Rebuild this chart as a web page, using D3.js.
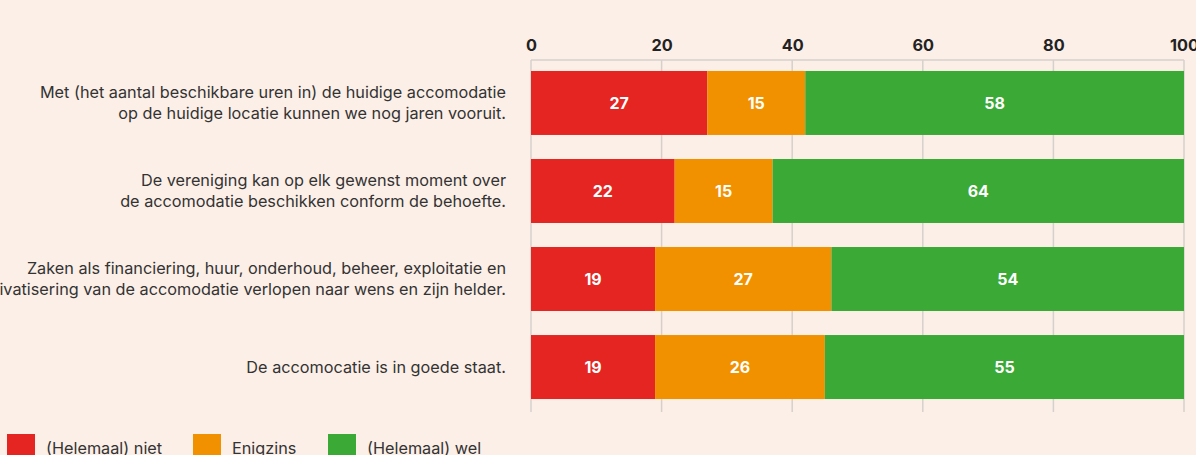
<!DOCTYPE html>
<html><head><meta charset="utf-8">
<script src="https://cdn.jsdelivr.net/npm/d3@7"></script>
<style>
html,body{margin:0;padding:0;background:#fcefe7;}
svg{display:block;font-family:Inter,"Noto Sans",sans-serif;}
</style></head>
<body>
<svg id="c" width="1196" height="455"></svg>
<script>
const categories = [
  ["Met (het aantal beschikbare uren in) de huidige accomodatie","op de huidige locatie kunnen we nog jaren vooruit."],
  ["De vereniging kan op elk gewenst moment over","de accomodatie beschikken conform de behoefte."],
  ["Zaken als financiering, huur, onderhoud, beheer, exploitatie en","privatisering van de accomodatie verlopen naar wens en zijn helder."],
  ["De accomocatie is in goede staat."]
];
const seriesNames = ["(Helemaal) niet","Enigzins","(Helemaal) wel"];
const niet = [27,22,19,19];
const enigzins = [15,15,27,26];
const wel = [58,64,54,55];
const ticks = [0,20,40,60,80,100];
const colors = ["#e52521","#f29100","#3aa935"];

const svg = d3.select("#c");
const x = d3.scaleLinear().domain([0,100]).range([531,1184]);
const y = d3.scaleBand().domain(d3.range(categories.length)).range([59,411]).paddingInner(0.273).paddingOuter(0.136);

// grid
const g = svg.append("g");
g.selectAll("line.grid").data(ticks).join("line")
  .attr("x1",d=>x(d)).attr("x2",d=>x(d)).attr("y1",60).attr("y2",412)
  .attr("stroke","#d6d0cc").attr("stroke-width",1.5);
g.append("line").attr("x1",x(0)).attr("x2",x(100)).attr("y1",60).attr("y2",60)
  .attr("stroke","#d6d0cc").attr("stroke-width",1.5);

// axis labels
svg.append("g").attr("transform","translate(0,51)")
  .call(d3.axisTop(x).tickValues(ticks).tickSize(0).tickPadding(0))
  .call(a=>a.select(".domain").remove())
  .selectAll("text").attr("font-size",16.3).attr("font-weight",700).attr("fill","#222")
  .attr("font-family","Inter,'Noto Sans',sans-serif");

// stacked data
const rows = categories.map((c,i)=>({i, vals:[niet[i],enigzins[i],wel[i]]}));
svg.append("clipPath").attr("id","clip").append("rect")
  .attr("x",x(0)).attr("y",0).attr("width",x(100)-x(0)).attr("height",455);
const bars = svg.append("g").attr("clip-path","url(#clip)");
rows.forEach(r=>{
  let acc=0;
  r.vals.forEach((v,k)=>{
    const x0=acc, x1=acc+v; acc=x1;
    bars.append("rect").attr("x",x(x0)).attr("width",x(Math.min(x1,100))-x(x0))
      .attr("y",y(r.i)).attr("height",y.bandwidth()).attr("fill",colors[k]);
    svg.append("text").attr("x",(x(x0)+x(Math.min(x1,100)))/2).attr("y",y(r.i)+y.bandwidth()/2)
      .attr("dy","0.36em").attr("text-anchor","middle").attr("fill","#fff")
      .attr("font-size",16).attr("font-weight",700).text(v);
  });
});

// category labels
categories.forEach((lines,i)=>{
  const cy = y(i)+y.bandwidth()/2;
  const lh = 21;
  const t = svg.append("text").attr("text-anchor","end").attr("font-size",16.25).attr("fill","#333");
  lines.forEach((ln,j)=>{
    t.append("tspan").attr("x",506).attr("y",cy+(j-(lines.length-1)/2)*lh).attr("dy","0.36em").text(ln);
  });
});

// legend
const lx=[7,193,328];
seriesNames.forEach((n,k)=>{
  svg.append("rect").attr("x",lx[k]).attr("y",434).attr("width",28).attr("height",28).attr("fill",colors[k]);
  svg.append("text").attr("x",lx[k]+39).attr("y",448).attr("dy","0.36em").attr("font-size",16.25).attr("fill","#333").text(n);
});
</script>
</body></html>
